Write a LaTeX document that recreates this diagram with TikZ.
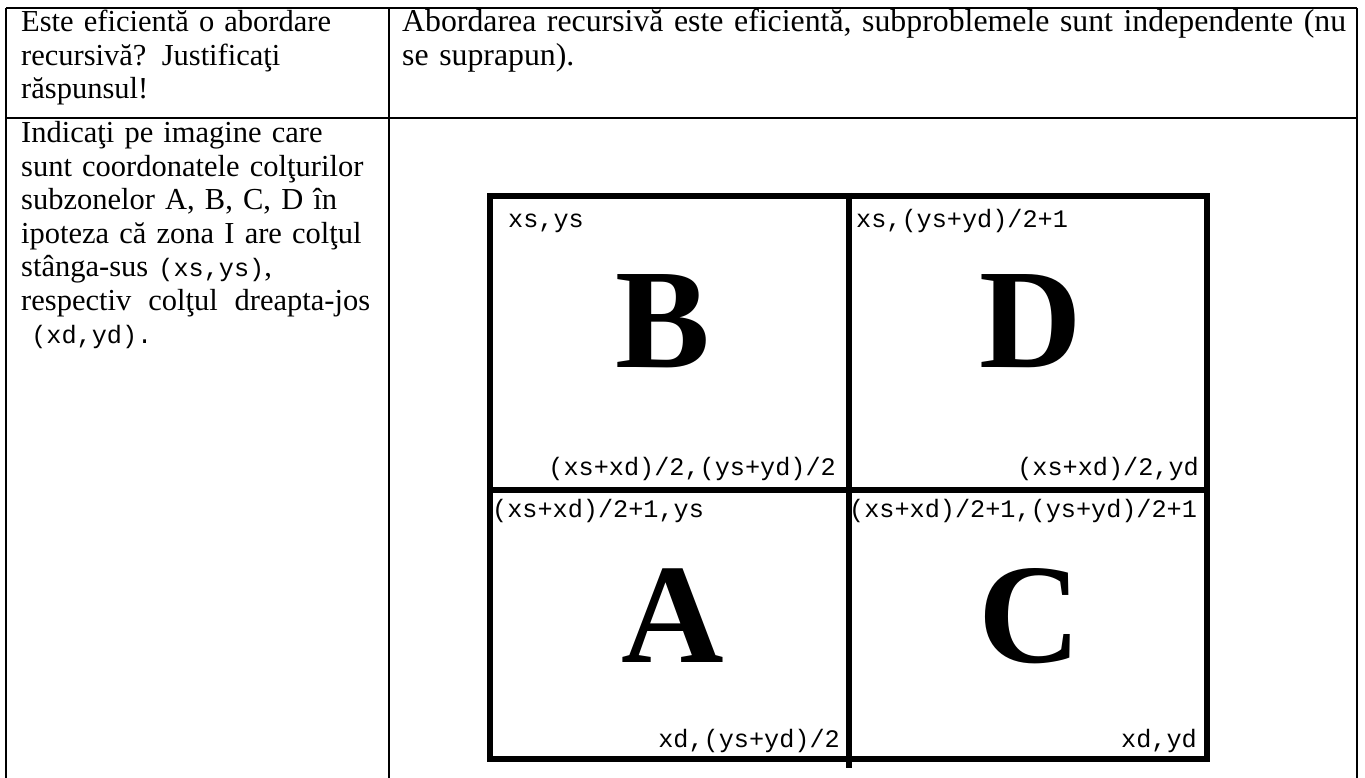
\documentclass[tikz,border=0pt]{standalone}
\usepackage{fontspec}
\setmainfont{Liberation Serif}
\newfontfamily\cour{Liberation Mono}
\newcommand{\spreadline}[2]{\makebox[#1][s]{\spaceskip=0.25em plus 1fil\relax #2}}
\begin{document}
\begin{tikzpicture}[x=1pt,y=-1pt,
  tabline/.style={line width=2pt,black},
  gridline/.style={line width=6pt,black},
  celltext/.style={anchor=base west,inner sep=0pt,align=left,text width=#1,
    font=\fontsize{30.5}{33.5}\selectfont},
  lbl/.style={inner sep=0pt,font=\fontsize{25.2}{30}\cour},
  bigletter/.style={anchor=base,inner sep=0pt,font=\fontsize{142}{150}\bfseries}]
\useasboundingbox (0,0) rectangle (1365,778);
% table
\coordinate (tl) at (6,8);
\coordinate (tr) at (1357,8);
\coordinate (ml) at (6,118);
\coordinate (mr) at (1357,118);
\coordinate (bl) at (6,779);
\coordinate (br) at (1357,779);
\coordinate (ct) at (389,8);
\coordinate (cb) at (389,779);
\draw[tabline] (tl) -- (tr);
\draw[tabline] (ml) -- (mr);
\draw[tabline] (tl) -- (bl);
\draw[tabline] (tr) -- (br);
\draw[tabline] (ct) -- (cb);
% cell texts
\node[celltext=360pt] (q1) at (21,32) {Este eficientă o abordare\\recursivă? Justificaţi\\răspunsul!};
\node[celltext=960pt,font=\fontsize{31.8}{33.5}\selectfont] (a1) at (402,32) {Abordarea recursivă este eficientă, subproblemele sunt independente (nu\\se suprapun).};
\node[celltext=360pt] (q2) at (21,143) {Indicaţi pe imagine care\\sunt coordonatele colţurilor\\subzonelor A, B, C, D în\\ipoteza că zona I are colţul\\stânga-sus {\fontsize{25.2}{33.5}\cour (xs,ys)},\\\spreadline{349pt}{respectiv colţul dreapta-jos}\\{\fontsize{25.2}{33.5}\cour\ (xd,yd).}};
% grid
\coordinate (g1) at (490,196);
\coordinate (g2) at (1207,759);
\coordinate (vt) at (849,193);
\coordinate (vb) at (849,768);
\coordinate (hl) at (487,490);
\coordinate (hr) at (1210,490);
\draw[gridline] (g1) rectangle (g2);
\draw[gridline] (vt) -- (vb);
\draw[gridline] (hl) -- (hr);
% labels
\node[lbl,anchor=base west] (l1) at (508,228) {xs,ys};
\node[lbl,anchor=base west] (l2) at (856,228) {xs,(ys+yd)/2+1};
\node[lbl,anchor=base east] (l3) at (836,475) {(xs+xd)/2,(ys+yd)/2};
\node[lbl,anchor=base east] (l4) at (1199,475) {(xs+xd)/2,yd};
\node[lbl,anchor=base west] (l5) at (492,517) {(xs+xd)/2+1,ys};
\node[lbl,anchor=base west] (l6) at (849,517) {(xs+xd)/2+1,(ys+yd)/2+1};
\node[lbl,anchor=base east] (l7) at (840,747) {xd,(ys+yd)/2};
\node[lbl,anchor=base east] (l8) at (1197,747) {xd,yd};
% letters
\node[bigletter] (B) at (663,367) {B};
\node[bigletter] (D) at (1031,367) {D};
\node[bigletter] (A) at (673,662) {A};
\node[bigletter] (C) at (1030,662) {C};
\end{tikzpicture}
\end{document}
